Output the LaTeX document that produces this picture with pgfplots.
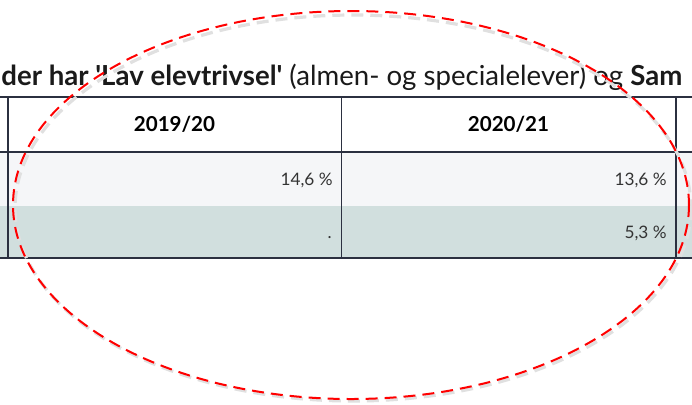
\documentclass[border=0pt]{standalone}
\usepackage{fontspec}
\setmainfont{Lato}
\usepackage{pgfplots}
\pgfplotsset{compat=1.18}
\definecolor{gridc}{HTML}{2B3040}
\definecolor{rowa}{HTML}{F5F6F8}
\definecolor{rowb}{HTML}{D1DFDE}
\definecolor{valc}{HTML}{333333}
\definecolor{titc}{HTML}{1A1A1A}
\begin{document}
\begin{tikzpicture}
\clip (0,0) rectangle (346pt,202pt);
\fill[white] (0,0) rectangle (346pt,202pt);
\begin{axis}[scale only axis, width=346pt, height=202pt,
  xmin=0, xmax=692, ymin=0, ymax=404, y dir=reverse,
  axis lines=none, clip=false]
% row backgrounds
\addplot[fill=white, draw=none] coordinates {(0,97) (692,97) (692,152) (0,152)} -- cycle;
\addplot[fill=rowa, draw=none] coordinates {(0,152) (692,152) (692,206) (0,206)} -- cycle;
\addplot[fill=rowb, draw=none] coordinates {(0,206) (692,206) (692,258) (0,258)} -- cycle;
% grid lines
\addplot[gridc, line width=0.9pt] coordinates {(0,97) (692,97)};
\addplot[gridc, line width=1.3pt] coordinates {(0,152) (692,152)};
\addplot[gridc, line width=1.2pt] coordinates {(0,258) (692,258)};
\addplot[gridc, line width=0.9pt] coordinates {(8,97) (8,258)};
\addplot[gridc, line width=0.9pt] coordinates {(341.5,97) (341.5,258)};
\addplot[gridc, line width=0.9pt] coordinates {(676,97) (676,258)};
% header labels
\addplot[draw=none, mark=none, nodes near coords, point meta=explicit symbolic,
  every node near coord/.append style={anchor=base, inner sep=0pt,
  font=\fontsize{10.3}{12}\selectfont\bfseries, text=black}]
  coordinates {(174.5,131) [2019/20] (508.5,131) [2020/21]};
% values
\addplot[draw=none, mark=none, nodes near coords, point meta=explicit symbolic,
  every node near coord/.append style={anchor=base east, inner sep=0pt,
  font=\fontsize{8.6}{10}\selectfont, text=valc}]
  coordinates {(333,185) [14,6 \%] (332,238) [.] (667,185) [13,6 \%] (667,238) [5,3 \%]};
% title
\node[anchor=base west, inner sep=0pt, font=\fontsize{13.8}{16}\selectfont, text=titc]
  at (axis cs:1,85) {\textbf{der har \textquotesingle Lav elevtrivsel\textquotesingle} (almen- og specialelever) og \textbf{Sam}};
% annotation ellipse with shadow
\draw[black!12, line width=1.6pt, dash pattern=on 6pt off 3.5pt] (axis cs:353,208) ellipse [x radius=338, y radius=193];
\draw[red, line width=1pt, dash pattern=on 6pt off 3.5pt] (axis cs:351,205) ellipse [x radius=338, y radius=194];
\end{axis}
\end{tikzpicture}
\end{document}
